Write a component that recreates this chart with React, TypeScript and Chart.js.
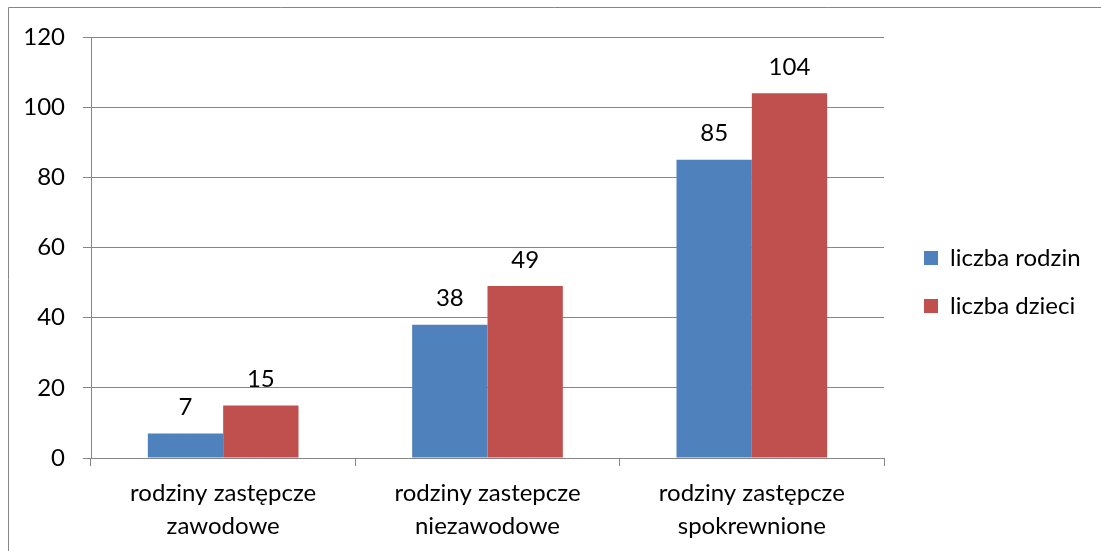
import { useEffect, useRef } from "react";
import { Chart, registerables } from "chart.js";

Chart.register(...registerables);

const categories: string[][] = [
  ["rodziny zastępcze", "zawodowe"],
  ["rodziny zastepcze", "niezawodowe"],
  ["rodziny zastępcze", "spokrewnione"],
];
const seriesNames = ["liczba rodzin", "liczba dzieci"];
const liczbaRodzin = [7, 38, 85];
const liczbaDzieci = [15, 49, 104];
const yTicks = [0, 20, 40, 60, 80, 100, 120];

const FONT = "Lato, 'Noto Sans', sans-serif";
const GRID = "#868686";

const frame = {
  id: "frame",
  beforeDraw(chart: any) {
    const ctx = chart.ctx;
    ctx.save();
    ctx.strokeStyle = GRID;
    ctx.lineWidth = 1;
    ctx.beginPath();
    ctx.moveTo(8.5, chart.height);
    ctx.lineTo(8.5, 7.5);
    ctx.lineTo(chart.width, 7.5);
    ctx.stroke();
    ctx.restore();
  },
};

const valueLabels = {
  id: "valueLabels",
  afterDatasetsDraw(chart: any) {
    const ctx = chart.ctx;
    ctx.save();
    ctx.font = `24px ${FONT}`;
    ctx.fillStyle = "#000";
    ctx.textAlign = "center";
    ctx.textBaseline = "alphabetic";
    chart.data.datasets.forEach((ds: any, i: number) => {
      const meta = chart.getDatasetMeta(i);
      meta.data.forEach((bar: any, j: number) => {
        ctx.fillText(String(ds.data[j]), bar.x, bar.y - 18.5);
      });
    });
    ctx.restore();
  },
};

const hiddenSpacer = (position: string, axis: string, size: number) => ({
  type: "linear",
  axis,
  position,
  display: true,
  grid: { display: false, drawTicks: false },
  border: { display: false },
  ticks: { display: false },
  afterFit: (s: any) => {
    if (axis === "x") s.height = size;
    else s.width = size;
  },
});

export default function App() {
  const ref = useRef<HTMLCanvasElement | null>(null);
  useEffect(() => {
    if (!ref.current) return;
    const chart = new Chart(ref.current, {
      type: "bar",
      data: {
        labels: categories,
        datasets: [
          {
            label: seriesNames[0],
            data: liczbaRodzin,
            backgroundColor: "#4F81BD",
            borderWidth: 0,
          },
          {
            label: seriesNames[1],
            data: liczbaDzieci,
            backgroundColor: "#C0504D",
            borderWidth: 0,
          },
        ],
      },
      options: {
        animation: false,
        responsive: false,
        devicePixelRatio: 1,
        layout: { padding: { left: 0, top: 13, right: 21, bottom: 0 } },
        datasets: {
          bar: { categoryPercentage: 0.57, barPercentage: 1 },
        },
        plugins: {
          legend: {
            position: "right",
            labels: {
              boxWidth: 14,
              boxHeight: 14,
              padding: 24,
              color: "#000",
              font: { family: FONT, size: 24 },
            },
          },
          tooltip: { enabled: false },
        },
        scales: {
          x: {
            grid: {
              offset: true,
              drawOnChartArea: false,
              drawTicks: true,
              tickLength: 8,
              color: GRID,
            },
            border: { display: true, color: GRID },
            ticks: {
              color: "#000",
              padding: 11,
              maxRotation: 0,
              font: { family: FONT, size: 24, lineHeight: 1.375 },
            },
            afterFit: (s: any) => {
              s.height = 93;
            },
          },
          y: {
            min: 0,
            max: 120,
            afterBuildTicks: (s: any) => {
              s.ticks = yTicks.map((v) => ({ value: v }));
            },
            grid: { color: GRID, tickLength: 8, drawTicks: true },
            border: { display: true, color: GRID },
            ticks: {
              color: "#000",
              padding: 18,
              font: { family: FONT, size: 24 },
            },
            afterFit: (s: any) => {
              s.width = 91;
            },
          },
          spacerRight: hiddenSpacer("right", "y", 16),
          spacerTop: hiddenSpacer("top", "x", 24),
        },
      },
      plugins: [frame, valueLabels],
    } as any);
    return () => chart.destroy();
  }, []);
  return (
    <div style={{ position: "fixed", left: 0, top: 0, width: 1101, height: 551 }}>
      <canvas ref={ref} width={1101} height={551} style={{ display: "block" }} />
    </div>
  );
}
